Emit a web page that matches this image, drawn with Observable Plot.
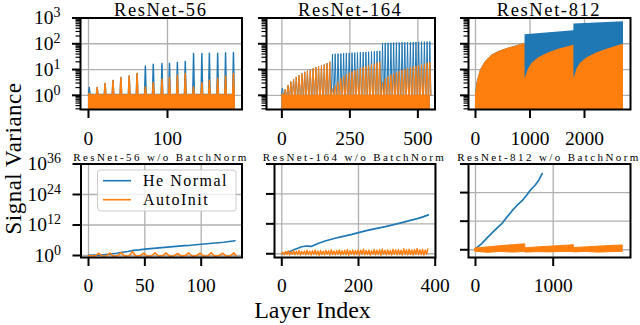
<!DOCTYPE html>
<html>
<head>
<meta charset="utf-8">
<script src="https://cdn.jsdelivr.net/npm/d3@7"></script>
<script src="https://cdn.jsdelivr.net/npm/@observablehq/plot@0.6"></script>
<style>
  html, body { margin: 0; padding: 0; background: #fff; }
  #chart { position: relative; width: 640px; height: 325px; overflow: hidden; background: #fff; }
  #chart svg { position: absolute; left: 0; top: 0; }
</style>
</head>
<body>
<div id="chart"></div>
<script>
// ---------- text / categories ----------
const seriesNames = ["He Normal", "AutoInit"];
const seriesColors = ["#1f77b4", "#ff7f0e"];
const titlesTop = ["ResNet-56", "ResNet-164", "ResNet-812"];
const titlesBottom = ["ResNet-56 w/o BatchNorm", "ResNet-164 w/o BatchNorm", "ResNet-812 w/o BatchNorm"];
const yAxisLabel = "Signal Variance";
const xAxisLabel = "Layer Index";

// ---------- tick values ----------
const topXTicks = [[0, 100], [0, 250, 500], [0, 1000, 2000]];
const bottomXTicks = [[0, 50, 100], [0, 200, 400], [0, 1000]];
const topYTicks = [1, 10, 100, 1000];
const topYMinor = [0.3, 0.4, 0.5, 0.6, 0.7, 0.8, 0.9, 2, 3, 4, 5, 6, 7, 8, 9, 20, 30, 40, 50, 60, 70, 80, 90, 200, 300, 400, 500, 600, 700, 800, 900];
const bottomYTicks = [1, 1e12, 1e24, 1e36];

// ---------- ResNet-56 (with BN): spike peaks per block ----------
const p1SpikeX = [1, 11, 21, 31, 41, 51.5, 61.5, 72, 82, 93, 102.5, 112.5, 122.5, 133, 143.5, 153, 163.5, 173.5, 183.5];
const p1Blue   = [2.0, 2.0, 2.85, 3.8, 4.9, 5.6, 7.0, 13.8, 16, 17, 17.5, 18.7, 20.5, 42, 42, 43, 43, 45, 46];
const p1Orange = [1.2, 2.0, 2.85, 3.8, 4.9, 5.6, 7.0, 2.1, 3.1, 4.2, 4.9, 6.0, 7.0, 2.1, 3.1, 3.9, 4.6, 5.6, 7.0];
const p1BandX = [0, 186];
const p1BandTop = [1.05, 1.05];

// ---------- ResNet-164 (with BN) ----------
const p2SpikeX = [2, 12, 22.5, 33, 43, 53, 63.5, 74, 84, 94, 104.5, 115, 125, 135, 145.5, 156, 166, 176,
  186, 196, 206.5, 217, 227, 237, 247.5, 258, 268, 278, 288.5, 299, 309, 319, 329.5, 340, 350, 360,
  370, 380, 390.5, 401, 411, 421, 431.5, 442, 452, 462, 472.5, 483, 493, 503, 513.5, 524, 534, 544];
const p2Orange = [1.2, 1.7, 2.5, 3.4, 4.3, 5.2, 6.1, 7.0, 8.2, 9.0, 9.9, 11.1, 12.3, 13.3, 14.2, 15.8, 17.5, 20,
  1.8, 2.4, 3.4, 4.5, 5.5, 6.5, 7.5, 8.5, 9.4, 10.4, 11.5, 12.5, 13.5, 14.6, 15.6, 16.8, 18.2, 20,
  3.3, 4.5, 5.4, 6.2, 7.0, 7.8, 8.7, 9.6, 10.4, 11.2, 12.0, 12.9, 13.8, 14.6, 15.5, 16.5, 18, 20];
const p2Blue = [1.9, 1.7, 2.5, 3.4, 4.3, 5.2, 6.1, 7.0, 8.2, 9.0, 9.9, 11.1, 12.3, 13.3, 14.2, 15.8, 17.5, 20,
  40, 41, 41.5, 42, 43, 43.5, 44, 45, 45.5, 46, 47, 47.5, 48, 49, 50, 51, 52, 53,
  107, 108, 109, 110, 111, 112, 113, 114, 114.5, 115, 116, 117, 118, 119, 120, 121, 122, 123];
const p2BandX = [0, 546];
const p2BandTop = [1.0, 1.0];

// ---------- ResNet-812 (with BN): upper envelopes of the dense traces ----------
const p3OrangeX   = [0, 31, 92, 183, 306, 428, 612, 734, 908, 910, 978, 1040, 1162, 1345, 1528, 1790, 1805, 1807, 1866, 1927, 2049, 2233, 2416, 2630, 2716];
const p3OrangeTop = [1.0, 3.3, 9.6, 20, 37, 50, 68, 80, 105, 4.5, 11, 17.5, 29, 45, 62, 85, 95, 4.5, 11, 17.5, 29, 45, 62, 85, 95];
const p3BlueX   = [0, 31, 92, 183, 306, 428, 612, 734, 908, 910, 1805, 1807, 2716];
const p3BlueTop = [1.0, 3.3, 9.6, 20, 37, 50, 68, 80, 105, 225, 323, 590, 710];

// ---------- w/o BatchNorm panels (log10 of variance) ----------
const p4BlueX   = [0, 5, 10, 15, 20, 25, 30, 35, 40, 45, 50, 55, 60, 65, 70, 75, 80, 85, 90, 95, 100, 105, 110, 115, 120, 125, 130];
const p4BlueExp = [0.1, 0.2, 0.1, 0.4, 0.6, 0.9, 1.3, 1.6, 2.0, 2.2, 2.5, 2.7, 2.9, 3.1, 3.3, 3.5, 3.7, 3.9, 4.0, 4.2, 4.4, 4.6, 4.8, 5.0, 5.2, 5.5, 5.8];
const p4OrangeX   = [0, 6, 9, 12, 16, 19, 22, 26, 29, 32, 36, 39, 42, 46, 49, 52, 56, 59, 62, 66, 69, 72, 76, 79, 82, 86, 89, 92, 96, 99, 102, 106, 109, 112, 116, 119, 122, 126, 129, 131];
const p4OrangeExp = [0, -0.2, 0.9, -0.2, -0.1, 1.0, -0.3, 0, 1.1, -0.2, -0.1, 1.5, -0.2, 0, 0.9, -0.3, -0.1, 1.0, -0.2, 0, 1.0, -0.3, -0.1, 0.8, -0.2, 0, 1.0, -0.3, 0, 0.9, -0.2, -0.1, 1.1, -0.3, 0, 0.9, -0.2, -0.1, 1.0, -0.1];

const p5BlueX   = [0, 10, 20, 35, 52, 65, 78, 96, 115, 139, 160, 183, 205, 226, 248, 270, 292, 313, 335, 356, 370, 382];
const p5BlueExp = [0, 0.3, 0.8, 1.8, 2.8, 3.1, 3.0, 4.2, 5.2, 6.2, 7.0, 7.8, 8.7, 9.5, 10.2, 10.9, 11.7, 12.5, 13.4, 14.2, 14.9, 15.6];
const p5PeakX = [3, 10, 17, 24, 31, 38, 45, 52, 59, 66, 73, 80, 87, 94, 101, 108, 115, 122, 129, 136, 143, 150, 157, 164, 171, 178, 185, 192, 199, 206, 213, 220, 227, 234, 241, 248, 255, 262, 269, 276, 283, 290, 297, 304, 311, 318, 325, 332, 339, 346, 353, 360, 367, 374, 381];
const p5PeakExp = [0.6, 0.9, 1.1, 0.8, 1.2, 1.0, 1.3, 0.9, 1.1, 1.4, 1.0, 1.2, 1.5, 1.1, 1.3, 1.0, 1.4, 1.2, 1.6, 1.1, 1.3, 1.5, 1.2, 1.4, 1.7, 1.2, 1.5, 1.3, 1.6, 1.4, 1.8, 1.3, 1.5, 1.2, 1.7, 1.4, 1.6, 1.9, 1.4, 1.6, 1.3, 1.8, 1.5, 1.7, 1.4, 2.0, 1.6, 1.8, 1.5, 1.7, 2.1, 1.6, 1.8, 1.5, 1.9];
const p5TroughExp = [-0.1, -0.4, -0.3, -0.5, -0.2, -0.4, -0.3, -0.5, -0.2, -0.4, -0.3, -0.5, -0.2, -0.4, -0.6, -0.3, -0.4, -0.2, -0.5, -0.3, -0.4, -0.2, -0.5, -0.3, -0.4, -0.6, -0.2, -0.4, -0.3, -0.5, -0.2, -0.4, -0.3, -0.5, -0.2, -0.4, -0.3, -0.6, -0.2, -0.4, -0.3, -0.5, -0.2, -0.4, -0.3, -0.5, -0.2, -0.4, -0.3, -0.5, -0.2, -0.4, -0.3, -0.5, -0.2];

const p6BlueX   = [0, 40, 80, 150, 220, 290, 343, 400, 472, 540, 601, 660, 708, 772, 820, 858];
const p6BlueExp = [0.4, 1.5, 2.6, 5.0, 7.3, 9.5, 11.1, 13.5, 16.4, 18.8, 20.6, 23.0, 25.1, 27.3, 29.5, 32];
const p6OrangeX  = [0, 160, 320, 480, 640, 642, 800, 960, 1120, 1265, 1267, 1420, 1580, 1740, 1895];
const p6OrangeHi = [0.5, 1.0, 1.5, 1.9, 2.3, 0.6, 1.0, 1.3, 1.6, 1.9, 0.7, 1.0, 1.3, 1.6, 1.8];
const p6OrangeLo = [-0.8, -1.3, -0.9, -1.2, -0.9, -1.2, -1.0, -1.1, -0.9, -1.0, -1.1, -0.9, -1.2, -1.0, -0.9];

// ---------- helpers ----------
const [BLUE, ORANGE] = seriesColors;
const SERIF = "Liberation Serif";
const chart = document.getElementById("chart");
const pw = e => Math.pow(10, e);
const idx = a => a.map((_, i) => i);

function spikeLine(X, H, w, base) {
  const out = [];
  X.forEach((x, i) => { out.push({x: x - w, y: base}, {x: x, y: H[i]}, {x: x + w, y: base}); });
  return out;
}
function zigzag(PX, peaks, troughs, half) {
  const out = [];
  PX.forEach((x, i) => { out.push({x: x - half, y: pw(troughs[i])}, {x: x, y: pw(peaks[i])}); });
  return out;
}
function supFormat(svg) {
  d3.select(svg).selectAll("text").each(function () {
    const m = /^10\^(-?\d+)$/.exec(this.textContent);
    if (m) {
      const t = d3.select(this);
      t.text("10");
      t.append("tspan").attr("dy", -7).attr("font-size", 14).text(m[1]);
    }
  });
}

function panel(c) {
  const marks = [
    Plot.gridX(c.xTicks, {stroke: "#b0b0b0", strokeOpacity: 1, strokeWidth: 1.3}),
    Plot.gridY(c.yTicks, {stroke: "#b0b0b0", strokeOpacity: 1, strokeWidth: 1.3}),
    ...c.marks,
    Plot.frame({stroke: "#000", strokeWidth: 2}),
    Plot.axisX(c.xTicks, {tickSize: 9, strokeWidth: 2, tickPadding: c.xPad, fontSize: 19.5, tickFormat: d => String(d), label: null}),
    Plot.axisY(c.yTicks, Object.assign({tickSize: 8, strokeWidth: 2, tickPadding: 12, fontSize: 19.5, label: null,
      tickFormat: d => "10^" + Math.round(Math.log10(d))}, c.yLabels ? {} : {fill: "none"}))
  ];
  if (c.yMinor) marks.push(Plot.axisY(c.yMinor, {tickSize: 4.5, strokeWidth: 1.2, fill: "none", label: null}));
  const svg = Plot.plot({
    width: 640, height: 325,
    marginLeft: c.l, marginRight: 640 - c.r, marginTop: c.t, marginBottom: 325 - c.b,
    x: {domain: c.xd},
    y: {type: "log", domain: c.yd},
    style: {background: "transparent", fontFamily: SERIF, color: "#000", overflow: "visible"},
    marks
  });
  supFormat(svg);
  // panel title, centred over the frame
  d3.select(svg).append("text")
    .attr("x", (c.l + c.r) / 2).attr("y", c.titleY)
    .attr("text-anchor", "middle")
    .attr("font-family", SERIF).attr("font-weight", "normal")
    .attr("font-size", c.titleSize).attr("letter-spacing", c.titleLS)
    .attr("fill", "#000")
    .text(c.title);
  chart.appendChild(svg);
}

// ---------- top row ----------
const TOP = {t: 17.5, b: 109, yd: [Math.pow(10, -0.55), 1000], yTicks: topYTicks, yMinor: topYMinor,
  xPad: 13, titleY: 16.3, titleSize: 18.5, titleLS: 1.6};
const LOW = 0.2;

panel(Object.assign({}, TOP, {
  l: 80, r: 241.5, xd: [-10.1, 194.3], xTicks: topXTicks[0], yLabels: true, title: titlesTop[0],
  marks: [
    Plot.areaY(idx(p1BandX), {x: i => p1BandX[i], y1: LOW, y2: i => p1BandTop[i] * 1.05, fill: BLUE, clip: true}),
    Plot.line(spikeLine(p1SpikeX, p1Blue, 1.0, 1.0), {x: "x", y: "y", stroke: BLUE, strokeWidth: 1.5, clip: true}),
    Plot.areaY(idx(p1BandX), {x: i => p1BandX[i], y1: LOW, y2: i => p1BandTop[i], fill: ORANGE, clip: true}),
    Plot.line(spikeLine(p1SpikeX, p1Orange, 1.0, 1.0), {x: "x", y: "y", stroke: ORANGE, strokeWidth: 1.5, clip: true})
  ]
}));

panel(Object.assign({}, TOP, {
  l: 266, r: 434.5, xd: [-56.5, 563], xTicks: topXTicks[1], yLabels: false, title: titlesTop[1],
  marks: [
    Plot.areaY(idx(p2BandX), {x: i => p2BandX[i], y1: LOW, y2: i => p2BandTop[i], fill: BLUE, clip: true}),
    Plot.line(spikeLine(p2SpikeX, p2Blue, 4, 1.0), {x: "x", y: "y", stroke: BLUE, strokeWidth: 1, clip: true}),
    Plot.areaY(idx(p2BandX), {x: i => p2BandX[i], y1: LOW, y2: i => p2BandTop[i], fill: ORANGE, clip: true}),
    Plot.line(spikeLine(p2SpikeX, p2Orange, 4, 1.0), {x: "x", y: "y", stroke: ORANGE, strokeWidth: 1, clip: true})
  ]
}));

panel(Object.assign({}, TOP, {
  l: 468, r: 630, xd: [-128, 2844], xTicks: topXTicks[2], yLabels: false, title: titlesTop[2],
  marks: [
    Plot.areaY(idx(p3BlueX), {x: i => p3BlueX[i], y1: LOW, y2: i => p3BlueTop[i], fill: BLUE, clip: true}),
    Plot.areaY(idx(p3OrangeX), {x: i => p3OrangeX[i], y1: LOW, y2: i => p3OrangeTop[i], fill: ORANGE, clip: true})
  ]
}));

// ---------- bottom row ----------
const BOT = {t: 163.5, b: 257, yTicks: bottomYTicks, yMinor: null, xPad: 11.5,
  titleY: 160.7, titleSize: 11, titleLS: 2.4};

panel(Object.assign({}, BOT, {
  l: 80.5, r: 241.5, xd: [-6.65, 136.2], yd: [Math.pow(10, -0.79), 1e36], xTicks: bottomXTicks[0], yLabels: true, title: titlesBottom[0],
  marks: [
    Plot.line(idx(p4BlueX), {x: i => p4BlueX[i], y: i => pw(p4BlueExp[i]), stroke: BLUE, strokeWidth: 1.6, clip: true}),
    Plot.line(idx(p4OrangeX), {x: i => p4OrangeX[i], y: i => pw(p4OrangeExp[i]), stroke: ORANGE, strokeWidth: 1.6, clip: true})
  ]
}));

panel(Object.assign({}, BOT, {
  l: 274, r: 435, xd: [-19, 400.8], yd: [Math.pow(10, -1.5), 1e36], xTicks: bottomXTicks[1], yLabels: false, title: titlesBottom[1],
  marks: [
    Plot.line(idx(p5BlueX), {x: i => p5BlueX[i], y: i => pw(p5BlueExp[i]), stroke: BLUE, strokeWidth: 1.7, clip: true}),
    Plot.line(zigzag(p5PeakX, p5PeakExp, p5TroughExp, 3.5), {x: "x", y: "y", stroke: ORANGE, strokeWidth: 1.4, clip: true})
  ]
}));

panel(Object.assign({}, BOT, {
  l: 468, r: 630, xd: [-90, 1995], yd: [Math.pow(10, -3.25), 1e36], xTicks: bottomXTicks[2], yLabels: false, title: titlesBottom[2],
  marks: [
    Plot.line(idx(p6BlueX), {x: i => p6BlueX[i], y: i => pw(p6BlueExp[i]), stroke: BLUE, strokeWidth: 1.7, clip: true}),
    Plot.areaY(idx(p6OrangeX), {x: i => p6OrangeX[i], y1: i => pw(p6OrangeLo[i]), y2: i => pw(p6OrangeHi[i]), fill: ORANGE, stroke: ORANGE, strokeWidth: 1, clip: true})
  ]
}));

// ---------- overlay: shared axis labels and legend ----------
const ov = d3.select(chart).append("svg").attr("width", 640).attr("height", 325)
  .style("font-family", SERIF);
ov.append("text").attr("transform", "translate(20.6,158.5) rotate(-90)").attr("text-anchor", "middle")
  .attr("font-size", 23).attr("letter-spacing", 0.5).text(yAxisLabel);
ov.append("text").attr("x", 312.5).attr("y", 317.5).attr("text-anchor", "middle")
  .attr("font-size", 24).text(xAxisLabel);
const lg = ov.append("g");
lg.append("rect").attr("x", 97.5).attr("y", 170).attr("width", 138.5).attr("height", 41).attr("rx", 3)
  .attr("fill", "#fff").attr("fill-opacity", 0.8).attr("stroke", "#cccccc").attr("stroke-width", 1);
seriesNames.forEach((name, i) => {
  const yLine = [180.7, 199.7][i], yText = [186.3, 205.3][i];
  lg.append("line").attr("x1", 103).attr("x2", 131).attr("y1", yLine).attr("y2", yLine)
    .attr("stroke", seriesColors[i]).attr("stroke-width", 1.6);
  lg.append("text").attr("x", 143).attr("y", yText).attr("font-size", 16)
    .attr("letter-spacing", 1.5).text(name);
});
</script>
</body>
</html>
